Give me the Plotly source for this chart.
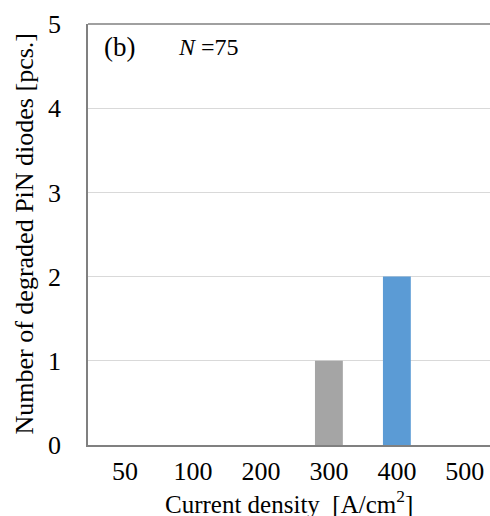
import plotly.graph_objects as go

categories = ["50", "100", "200", "300", "400", "500"]
counts = [0, 0, 0, 1, 2, 0]
bar_colors = ["#a5a5a5", "#a5a5a5", "#a5a5a5", "#a5a5a5", "#5b9bd5", "#a5a5a5"]
y_ticks = [0, 1, 2, 3, 4, 5]

FONT = "Liberation Serif, Times New Roman, serif"
AXC = "#808080"

fig = go.Figure(go.Bar(x=categories, y=counts, marker=dict(color=bar_colors, line=dict(width=0)),
                       width=0.41))

fig.update_layout(
    width=490, height=516,
    margin=dict(l=88, r=0, t=24, b=71),
    paper_bgcolor="white", plot_bgcolor="white",
    font=dict(family=FONT, size=26, color="black"),
    showlegend=False,
    xaxis=dict(type="category", range=[-0.544, 5.37], showgrid=False, automargin=False,
               showline=True, linecolor=AXC, linewidth=1.5, ticks="",
               tickfont=dict(size=26), ticklabelstandoff=2),
    yaxis=dict(range=[0, 5], tickvals=y_ticks, showgrid=True, gridcolor="#d9d9d9", gridwidth=1,
               automargin=False,
               showline=True, linecolor=AXC, linewidth=1.5, ticks="", zeroline=False,
               tickfont=dict(size=26), ticklabelstandoff=20),
    shapes=[dict(type="line", xref="paper", yref="paper", x0=0, x1=1, y0=1, y1=1,
                 line=dict(color=AXC, width=1.5))],
    annotations=[
        dict(text="(b)", xref="paper", yref="paper", x=0.035, y=0.945, xanchor="left", yanchor="middle",
             showarrow=False, font=dict(size=27)),
        dict(text="<i>N</i> =75", xref="paper", yref="paper", x=0.218, y=0.945, xanchor="left", yanchor="middle",
             showarrow=False, font=dict(size=24)),
        dict(text="Current density  [A/cm<sup>2</sup>]", xref="paper", yref="paper", x=0.5, y=0,
             yshift=-57, xanchor="center", yanchor="middle", showarrow=False, font=dict(size=25)),
        dict(text="Number of degraded PiN diodes [pcs.]", xref="paper", yref="paper", x=0, y=0.5,
             xshift=-64, xanchor="center", yanchor="middle", textangle=-90, showarrow=False,
             font=dict(size=26)),
    ],
)

fig.write_html("out.html", config={"displayModeBar": False},
               post_script="document.body.style.margin='0';document.body.style.overflow='hidden';")
